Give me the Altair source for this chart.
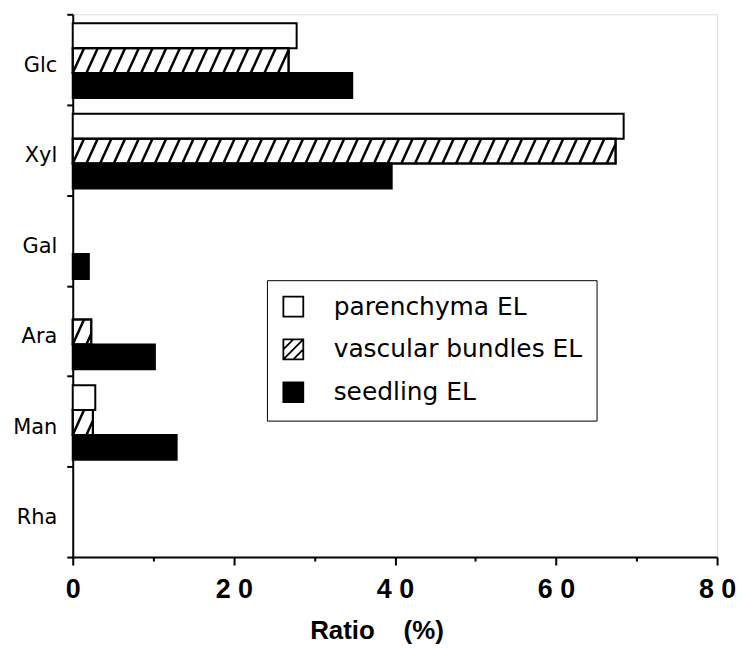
import altair as alt
import pandas as pd
import numpy as np

categories = ["Glc", "Xyl", "Gal", "Ara", "Man", "Rha"]
series = ["parenchyma EL", "vascular bundles EL", "seedling EL"]
parenchyma = [27.8, 68.4, 0, 0, 2.8, 0]
vascular = [26.8, 67.4, 0, 2.3, 2.5, 0]
seedling = [34.7, 39.6, 2.0, 10.2, 12.9, 0]
x_ticks = [0, 10, 20, 30, 40, 50, 60, 70, 80]

values = [parenchyma, vascular, seedling]
fills = ["white", "white", "black"]
OFF, H = 0.10, 0.275

rows = []
for i, c in enumerate(categories):
    for j, s in enumerate(series):
        v = values[j][i]
        if v > 0:
            y0 = i + OFF + H * j
            rows.append({"cat": c, "series": s, "x0": 0.0, "value": v,
                         "y0": y0, "y1": y0 + H, "fillcol": fills[j]})
bars = pd.DataFrame(rows)

# hatch segments derived from the vascular bundle values
S, D = 1.7, 1.4
hrows = []
for _, r in bars[bars.series == series[1]].iterrows():
    v = r.value
    ybot, h = r.y1, H
    k = int(np.floor(-D / S))
    while k * S < v:
        xb = k * S
        tmin = max(0.0, (0 - xb) / D)
        tmax = min(1.0, (v - xb) / D)
        if tmin < tmax:
            hrows.append({"hx": xb + D * tmin, "hx2": xb + D * tmax,
                          "hy": ybot - h * tmin, "hy2": ybot - h * tmax})
        k += 1
hatch = pd.DataFrame(hrows)

xscale = alt.Scale(domain=[0, 80], nice=False, zero=True)
yscale = alt.Scale(domain=[0, 6], reverse=True, nice=False, zero=False)

cat_arr = "[" + ",".join("'%s'" % c for c in categories) + "]"
yvals = [k / 2 for k in range(0, 13)]

xaxis = alt.Axis(
    values=x_ticks, grid=False, domainColor="black", domainWidth=2,
    tickColor="black", tickWidth=2,
    tickSize={"condition": {"test": "datum.value % 20 == 0", "value": 8}, "value": 4},
    labelExpr="datum.value % 20 != 0 ? '' : (datum.value < 10 ? '' + datum.value : floor(datum.value/10) + ' ' + (datum.value % 10))",
    labelFont="Liberation Sans", labelFontWeight="bold", labelFontSize=27,
    labelColor="black", labelPadding=12, labelFlush=False,
    title="Ratio\u00a0\u00a0\u00a0\u00a0(%)", titleFont="Liberation Sans",
    titleFontWeight="bold", titleFontSize=26, titleColor="black",
    titleX=305, titleY=82, titleAlign="center", titleBaseline="alphabetic",
)
yaxis = alt.Axis(
    values=yvals, grid=False, domainColor="black", domainWidth=2,
    tickColor="black", tickWidth=2,
    tickSize={"condition": {"test": "datum.value % 1 == 0", "value": 6}, "value": 0},
    labelExpr="datum.value % 1 == 0.5 ? " + cat_arr + "[floor(datum.value)] : ''",
    labelFont="DejaVu Sans", labelFontSize=21, labelColor="black",
    labelPadding=16, labelOffset=6, title=None,
)

base_bar = alt.Chart(bars).mark_bar(stroke="black", strokeWidth=2).encode(
    x=alt.X("x0:Q", scale=xscale, axis=xaxis),
    x2="value:Q",
    y=alt.Y("y0:Q", scale=yscale, axis=yaxis),
    y2="y1:Q",
    fill=alt.Fill("fillcol:N", scale=None),
)

hatch_layer = alt.Chart(hatch).mark_rule(color="black", strokeWidth=2.5, strokeCap="butt").encode(
    x="hx:Q", x2="hx2:Q", y="hy:Q", y2="hy2:Q",
)

outline = alt.Chart(bars[bars.series == series[1]]).mark_bar(
    stroke="black", strokeWidth=2, fillOpacity=0).encode(
    x="x0:Q", x2="value:Q", y="y0:Q", y2="y1:Q",
)

sq = "M-1,-1H1V1H-1Z"
hsq = "M-1,-1H1V1H-1Z M-1,1L1,-1 M-1,0L0,-1 M0,1L1,0"
leg_df = pd.DataFrame({"series": series})
legend = alt.Legend(
    orient="none", legendX=195, legendY=267, title=None,
    strokeColor="black", fillColor="white", padding=14,
    rowPadding=14, symbolSize=400, symbolStrokeColor="black",
    symbolStrokeWidth=1.8, labelFont="DejaVu Sans", labelFontSize=25,
    labelColor="black", labelOffset=28, symbolOffset=0, labelLimit=0,
)
legend_layer = alt.Chart(leg_df).mark_point(filled=True, opacity=0, stroke="black").encode(
    x=alt.value(0), y=alt.value(0),
    fill=alt.Fill("series:N", scale=alt.Scale(domain=series, range=fills), legend=legend),
    shape=alt.Shape("series:N", scale=alt.Scale(domain=series, range=[sq, hsq, sq]), legend=legend),
)

chart = alt.layer(base_bar, hatch_layer, outline, legend_layer).properties(
    width=647, height=545,
    padding={"left": 65, "top": 5, "right": 20, "bottom": 90},
    autosize=alt.AutoSizeParams(type="none"),
).configure_view(stroke="black", strokeWidth=2).configure(background="white")

chart.save("out.html", embed_options={"renderer": "svg", "actions": False})
